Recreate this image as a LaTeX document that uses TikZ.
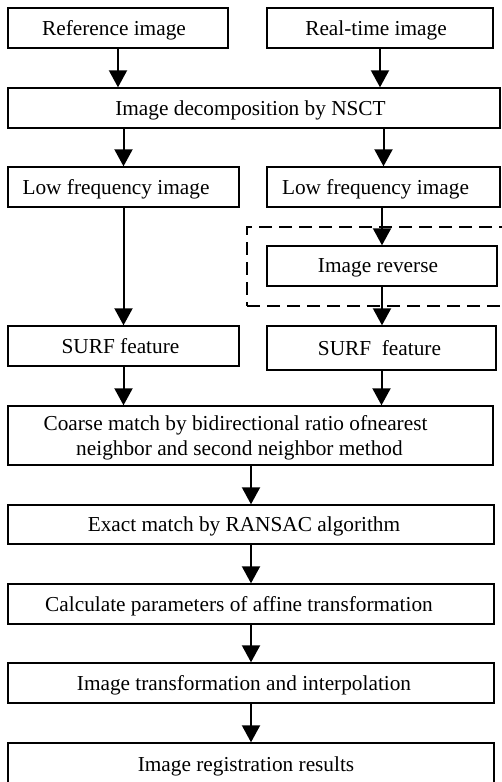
\documentclass[tikz,border=0pt]{standalone}
\usepackage{fontspec}
\setmainfont{Liberation Serif}
\usetikzlibrary{arrows.meta}
\begin{document}
\begin{tikzpicture}[x=1pt,y=-1pt,
  box/.style={draw, line width=1.4pt, inner sep=0pt, align=center, text depth=0pt,
    font=\fontsize{21.3}{24.5}\selectfont},
  arr/.style={line width=2pt, -{Triangle[length=17pt 0 0, width=18pt 0 0]}},
  grp/.style={draw, line width=1.8pt, dash pattern=on 13pt off 7pt, inner sep=0pt}]
\useasboundingbox (0,0) rectangle (501,782);
\node[grp, minimum width=263pt, minimum height=79pt] (grpbox) at (378.5,266.5) {};
\node[box, minimum width=220pt, minimum height=40pt] (ref) at (118,28) {Reference image\hspace*{8pt}};
\node[box, minimum width=226pt, minimum height=40pt] (rt) at (380,28) {Real-time image\hspace*{8pt}};
\node[box, minimum width=492pt, minimum height=40pt] (nsct) at (254,108) {Image decomposition by NSCT\hspace*{7pt}};
\node[box, minimum width=231pt, minimum height=40pt] (lfL) at (123.5,187) {Low frequency image\hspace*{15pt}};
\node[box, minimum width=233pt, minimum height=40pt] (lfR) at (383.5,187) {Low frequency image\hspace*{16pt}};
\node[box, minimum width=230pt, minimum height=40pt] (rev) at (382,266) {Image reverse\hspace*{8pt}};
\node[box, minimum width=231pt, minimum height=40pt] (surfL) at (123.5,346) {SURF feature\hspace*{6pt}};
\node[box, minimum width=229pt, minimum height=44pt] (surfR) at (381.5,348) {SURF\ \ feature\hspace*{4pt}};
\node[box, minimum width=485pt, minimum height=59pt] (coarse) at (250.5,435.5) {Coarse match by bidirectional ratio ofnearest\hspace*{30pt}\\neighbor and second neighbor method\hspace*{22pt}};
\node[box, minimum width=486pt, minimum height=39pt] (exact) at (251,524.5) {Exact match by RANSAC algorithm\hspace*{14pt}};
\node[box, minimum width=486pt, minimum height=40pt] (calc) at (251,604) {Calculate parameters of affine transformation\hspace*{24pt}};
\node[box, minimum width=486pt, minimum height=40pt] (trans) at (251,683) {Image transformation and interpolation\hspace*{14pt}};
\node[box, minimum width=486pt, minimum height=42pt] (res) at (251,764) {Image registration results\hspace*{10pt}};
\draw[arr] (ref) -- (ref |- nsct.north);
\draw[arr] (rt) -- (rt |- nsct.north);
\draw[arr] (lfL.north |- nsct.south) -- (lfL.north);
\draw[arr] (lfR.north |- nsct.south) -- (lfR.north);
\draw[arr] (lfL) -- (lfL |- surfL.north);
\draw[arr] (rev.north |- lfR.south) -- (rev.north);
\draw[arr] (rev) -- (rev |- surfR.north);
\draw[arr] (surfL) -- (surfL |- coarse.north);
\draw[arr] (surfR) -- (surfR |- coarse.north);
\draw[arr] (exact.north |- coarse.south) -- (exact.north);
\draw[arr] (exact) -- (exact |- calc.north);
\draw[arr] (calc) -- (calc |- trans.north);
\draw[arr] (trans) -- (trans |- res.north);
\end{tikzpicture}
\end{document}
